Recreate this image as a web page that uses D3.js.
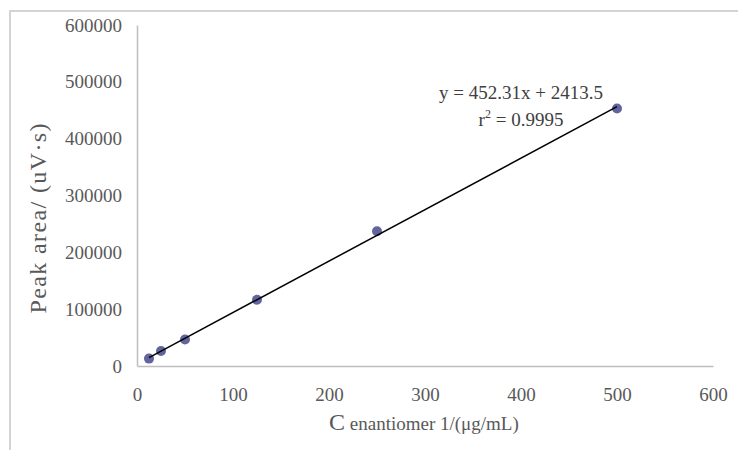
<!DOCTYPE html>
<html>
<head>
<meta charset="utf-8">
<script src="https://cdn.jsdelivr.net/npm/d3@7.9.0/dist/d3.min.js"></script>
<style>
  html, body { margin: 0; padding: 0; background: #fff; }
  #chart { width: 738px; height: 450px; }
  text { font-family: "Liberation Serif", "Times New Roman", serif; }
</style>
</head>
<body>
<div id="chart"></div>
<script>
// concentration (x) and peak area (y)
const concentrations = [12.5, 25, 50, 125, 250, 500];
const peakAreas = [13000, 26500, 46500, 116500, 237000, 453000];

const xTicks = [0, 100, 200, 300, 400, 500, 600];
const yTicks = [0, 100000, 200000, 300000, 400000, 500000, 600000];

const equationText = 'y = 452.31x + 2413.5';
const yTitle = 'Peak area/ (uV·s)';

const points = concentrations.map((c, i) => ({ x: c, y: peakAreas[i] }));

const width = 738;
const height = 450;
const margin = { top: 25, right: 25, bottom: 84, left: 137 };
const innerW = width - margin.left - margin.right;
const innerH = height - margin.top - margin.bottom;

const svg = d3.select('#chart')
  .append('svg')
  .attr('width', width)
  .attr('height', height);

// outer chart border (cropped at right/bottom like the source)
svg.append('rect')
  .attr('x', 10)
  .attr('y', 11)
  .attr('width', 760)
  .attr('height', 480)
  .attr('fill', 'none')
  .attr('stroke', '#d4d4d4')
  .attr('stroke-width', 2);

const g = svg.append('g')
  .attr('transform', `translate(${margin.left},${margin.top})`);

const xScale = d3.scaleLinear().domain([0, 600]).range([0, innerW]);
const yScale = d3.scaleLinear().domain([0, 600000]).range([innerH, 0]);

const labelColor = '#595959';

// Axes
const xAxis = g.append('g')
  .attr('transform', `translate(0,${innerH})`)
  .call(d3.axisBottom(xScale).tickValues(xTicks).tickSize(0).tickPadding(22).tickFormat(d3.format('d')));

const yAxis = g.append('g')
  .call(d3.axisLeft(yScale).tickValues(yTicks).tickSize(0).tickPadding(15).tickFormat(d3.format('d')));

[xAxis, yAxis].forEach((a) => {
  a.attr('font-family', null).attr('font-size', null);
  a.select('.domain').attr('stroke', '#bfbfbf').attr('stroke-width', 1.5);
  a.selectAll('text')
    .attr('fill', labelColor)
    .style('font-family', '"Liberation Serif", serif')
    .style('font-size', '19px');
});

// Linear trendline (least squares over the points)
const mx = d3.mean(points, (d) => d.x);
const my = d3.mean(points, (d) => d.y);
const slope = d3.sum(points, (d) => (d.x - mx) * (d.y - my)) / d3.sum(points, (d) => (d.x - mx) ** 2);
const intercept = my - slope * mx;
const xExt = d3.extent(points, (d) => d.x);
const trend = xExt.map((x) => ({ x, y: slope * x + intercept }));

// Points
g.selectAll('circle.pt')
  .data(points)
  .enter()
  .append('circle')
  .attr('class', 'pt')
  .attr('cx', (d) => xScale(d.x))
  .attr('cy', (d) => yScale(d.y))
  .attr('r', 5)
  .attr('fill', '#62649e');

g.append('path')
  .datum(trend)
  .attr('d', d3.line().x((d) => xScale(d.x)).y((d) => yScale(d.y)))
  .attr('fill', 'none')
  .attr('stroke', '#000')
  .attr('stroke-width', 1.5);

// Equation label
svg.append('text')
  .attr('x', 521)
  .attr('y', 99)
  .attr('text-anchor', 'middle')
  .attr('fill', '#404040')
  .style('font-size', '19px')
  .text(equationText);

const r2 = svg.append('text')
  .attr('x', 521)
  .attr('y', 126)
  .attr('text-anchor', 'middle')
  .attr('fill', '#404040')
  .style('font-size', '19px');
r2.append('tspan').text('r');
r2.append('tspan').attr('dy', -8).style('font-size', '12px').text('2');
r2.append('tspan').attr('dy', 8).text(' = 0.9995');

// Axis titles
const xt = svg.append('text')
  .attr('x', 329)
  .attr('y', 430)
  .attr('fill', labelColor)
  .style('font-size', '19px');
xt.append('tspan').style('font-size', '24px').text('C');
xt.append('tspan').text(' enantiomer 1/(μg/mL)');

svg.append('text')
  .attr('transform', `translate(46,${margin.top + innerH / 2 + 23}) rotate(-90)`)
  .attr('text-anchor', 'middle')
  .attr('fill', labelColor)
  .attr('textLength', 190)
  .attr('lengthAdjust', 'spacing')
  .style('font-size', '24px')
  .text(yTitle);
</script>
</body>
</html>
